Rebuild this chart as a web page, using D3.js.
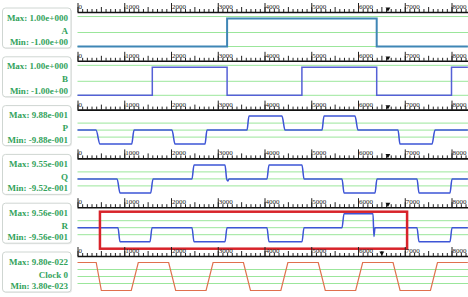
<!DOCTYPE html>
<html>
<head>
<meta charset="utf-8">
<script src="https://cdn.jsdelivr.net/npm/d3@7"></script>
<style>
  body { margin: 0; background: #fff; }
  svg { display: block; }
  text { font-family: "Liberation Serif", "Times New Roman", serif; }
</style>
</head>
<body>
<div id="viz"></div>
<script>
var width = 468,
    height = 297,
    plotLeft = 77.5,
    pitch = 48.8;

// signal names and the Max / Min captions of each box
var names = ["A", "B", "P", "Q", "R", "Clock 0"];
var maxLabels = ["1.00e+000", "1.00e+000", "9.88e-001", "9.55e-001", "9.56e-001", "9.80e-022"];
var minLabels = ["-1.00e+00", "-1.00e+00", "-9.88e-001", "-9.52e-001", "-9.56e-001", "3.80e-023"];
var maxVals = [1, 1, 0.988, 0.955, 0.956, 9.8e-22];
var minVals = [-1, -1, -0.988, -0.952, -0.956, 3.8e-23];

// time ruler
var tickLabels = [0, 1000, 2000, 3000, 4000, 5000, 6000, 7000, 8000];
var markerT = [6640, 6640, 6640, 6640, 6640, 6510];

// waveforms, [time, value]
var sigA = [[0, -1], [3200, -1], [3200, 1], [6400, 1], [6400, -1], [8350, -1]];
var sigB = [[0, -1], [1600, -1], [1600, 1], [3200, 1], [3200, -1], [4800, -1], [4800, 1],
            [6400, 1], [6400, -1], [8000, -1], [8000, 1], [8350, 1]];
var sigP = [[0, 0], [396, 0], [481, -0.988], [1159, -0.988], [1209, 0], [2021, 0], [2086, -0.988],
            [2727, -0.988], [2770, 0], [3626, 0], [3668, 0.988], [4374, 0.988], [4439, 0],
            [5230, 0], [5273, 0.988], [5936, 0.988], [6000, 0], [6856, 0], [6898, -0.988],
            [7583, -0.988], [7647, 0], [8350, 0]];
var sigQ = [[0, 0], [847, 0], [909, -0.952], [1566, -0.952], [1615, 0], [2449, 0], [2492, 0.955],
            [3155, 0.955], [3190, 0], [3215, -0.15], [3240, 0], [4053, 0], [4096, 0.955], [4802, 0.955],
            [4845, 0], [5658, 0], [5701, -0.952], [6364, -0.952], [6406, 0], [7262, 0],
            [7305, -0.952], [7968, -0.952], [8011, 0], [8350, 0]];
var sigR = [[0, 0], [866, 0], [909, -0.956], [1551, -0.956], [1594, 0], [2449, 0], [2492, -0.956],
            [3155, -0.956], [3198, 0], [4053, 0], [4096, -0.956], [4802, -0.956], [4845, 0],
            [5658, 0], [5701, 0.956], [6321, 0.956], [6340, -0.6], [6364, 0], [7262, 0],
            [7305, -0.956], [7968, -0.956], [8011, 0], [8350, 0]];
var sigClk = [[0, 9.8e-22], [400, 9.8e-22], [510, 3.8e-23], [1150, 3.8e-23], [1300, 9.8e-22],
              [1950, 9.8e-22], [2100, 3.8e-23], [2750, 3.8e-23], [2900, 9.8e-22], [3550, 9.8e-22],
              [3700, 3.8e-23], [4350, 3.8e-23], [4500, 9.8e-22], [5150, 9.8e-22], [5300, 3.8e-23],
              [5950, 3.8e-23], [6100, 9.8e-22], [6750, 9.8e-22], [6900, 3.8e-23], [7550, 3.8e-23],
              [7700, 9.8e-22], [8350, 9.8e-22]];
var signals = [sigA, sigB, sigP, sigQ, sigR, sigClk];

// highlighted stretch of R
var highlight = [480, 7050];

var lineColors = ["#3f86b5", "#5560d6", "#3d55d6", "#3d55d6", "#3d55d6", "#e0704e"];
var digital = [true, true, false, false, false, false];

var svg = d3.select("#viz")
  .append("svg")
    .attr("width", width)
    .attr("height", height);

svg.append("rect")
  .attr("width", width)
  .attr("height", height)
  .attr("fill", "#fff");

var x = d3.scaleLinear()
  .domain([0, 8350])
  .range([plotLeft, plotLeft + 8.35 * 46.75]);

var minorTicks = d3.range(0, 8400, 100);

var panel = svg.selectAll("g.panel")
  .data(names)
  .enter()
  .append("g")
    .attr("class", "panel")
    .attr("transform", function(d, i) {
      return "translate(0," + (12 + pitch * i) + ")";
    });

panel.each(function(name, i) {
  var g = d3.select(this);
  var y = d3.scaleLinear()
    .domain([minVals[i], maxVals[i]])
    .range([34.5, 6.5]);

  // label box
  g.append("rect")
    .attr("x", 3.5).attr("y", -3)
    .attr("width", 68.5).attr("height", 40)
    .attr("rx", 3)
    .attr("fill", "#ececec");
  g.append("rect")
    .attr("x", 2.5).attr("y", -4)
    .attr("width", 68.5).attr("height", 40)
    .attr("rx", 3)
    .attr("fill", "#fff")
    .attr("stroke", "#cfd6d2");

  var txt = g.append("g")
    .attr("font-size", 9)
    .attr("font-weight", "bold")
    .attr("fill", "#33a35c")
    .attr("text-anchor", "end");
  txt.append("text").attr("x", 68).attr("y", 8.5).text("Max: " + maxLabels[i]);
  txt.append("text").attr("x", 68).attr("y", 21.5).text(name);
  txt.append("text").attr("x", 68).attr("y", 33).text("Min: " + minLabels[i]);

  // grid lines
  var fr = digital[i] ? [-0.07, 0.5, 1] : [0.25, 0.5, 0.75];
  g.selectAll("line.grid")
    .data(fr)
    .enter()
    .append("line")
      .attr("class", "grid")
      .attr("x1", plotLeft).attr("x2", width)
      .attr("y1", function(f) { return 6.5 + 28 * f; })
      .attr("y2", function(f) { return 6.5 + 28 * f; })
      .attr("stroke", "#9be69b")
      .attr("stroke-width", 1);

  // ruler
  var minor = d3.axisTop(x)
    .tickValues(minorTicks)
    .tickSize(3)
    .tickFormat("");
  var rg = g.append("g").call(minor);
  rg.select(".domain").remove();
  rg.selectAll(".tick line")
    .attr("stroke", "#222")
    .attr("y2", function(d) { return d % 500 === 0 ? -5 : -3; });

  var major = d3.axisTop(x)
    .tickValues(tickLabels)
    .tickSize(9)
    .tickFormat("");
  var mg = g.append("g").call(major);
  mg.select(".domain").remove();
  mg.selectAll(".tick line").attr("stroke", "#222");

  g.selectAll("text.tl")
    .data(tickLabels)
    .enter()
    .append("text")
      .attr("class", "tl")
      .attr("x", function(d) { return x(d) + 1; })
      .attr("y", -3)
      .attr("font-size", 7)
      .attr("fill", "#222")
      .text(function(d) { return d; });

  g.append("line")
    .attr("x1", plotLeft).attr("x2", width)
    .attr("y1", 0.5).attr("y2", 0.5)
    .attr("stroke", "#111")
    .attr("stroke-width", 1.6);

  g.append("path")
    .attr("d", d3.symbol().type(d3.symbolTriangle).size(10)())
    .attr("transform", "translate(" + x(markerT[i]) + ",-3) rotate(180)")
    .attr("fill", "#111");

  // waveform
  var line = d3.line()
    .x(function(d) { return x(d[0]); })
    .y(function(d) { return y(d[1]); })
    .curve(digital[i] || i === 5 ? d3.curveLinear : d3.curveMonotoneX);

  g.append("path")
    .datum(signals[i])
    .attr("d", line)
    .attr("fill", "none")
    .attr("stroke", lineColors[i])
    .attr("stroke-width", i === 0 ? 2 : (i === 5 ? 1.2 : 1.5));

  // red box around part of R
  if (name === "R") {
    g.append("rect")
      .attr("x", x(highlight[0]))
      .attr("y", y(maxVals[i]) - 2)
      .attr("width", x(highlight[1]) - x(highlight[0]))
      .attr("height", y(minVals[i]) - y(maxVals[i]) + 9)
      .attr("fill", "none")
      .attr("stroke", "#d8232a")
      .attr("stroke-width", 2.5);
  }
});
</script>
</body>
</html>
